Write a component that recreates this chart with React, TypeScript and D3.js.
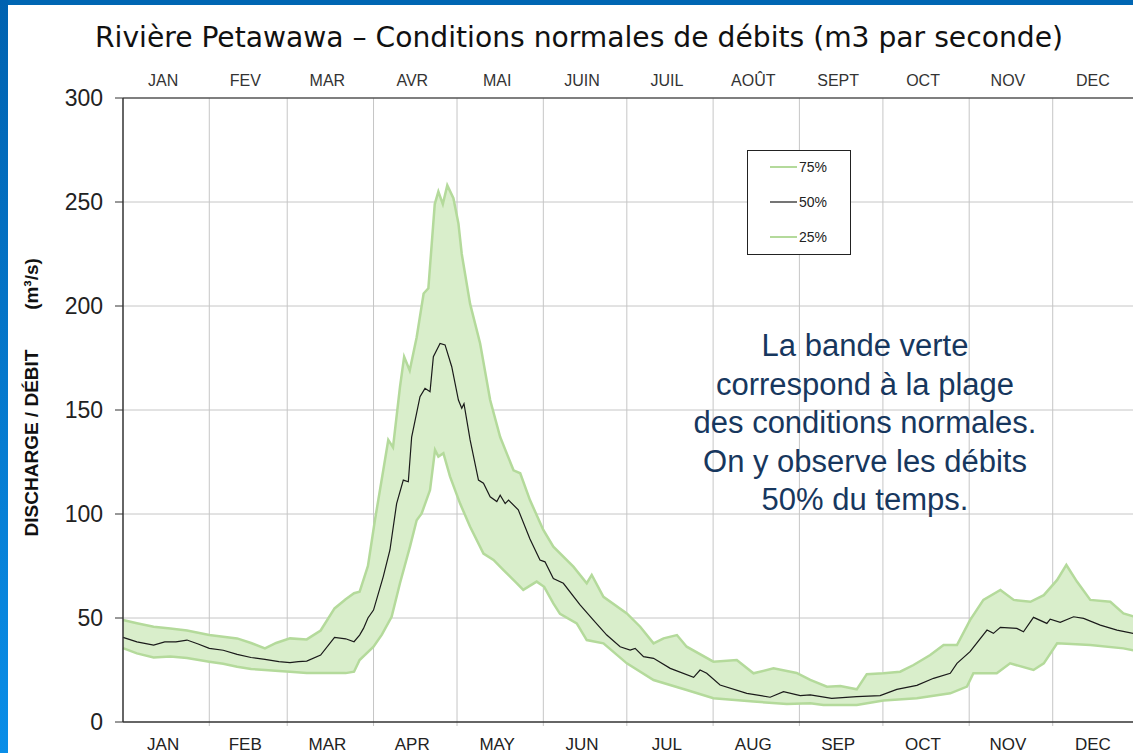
import React from "react";
import * as d3 from "d3";

const monthsFr = ["JAN", "FEV", "MAR", "AVR", "MAI", "JUIN", "JUIL", "AOÛT", "SEPT", "OCT", "NOV", "DEC"];
const monthsEn = ["JAN", "FEB", "MAR", "APR", "MAY", "JUN", "JUL", "AUG", "SEP", "OCT", "NOV", "DEC"];
const monthStarts = [0, 31, 59, 90, 120, 151, 181, 212, 243, 273, 304, 334, 365];
const yTicks = [0, 50, 100, 150, 200, 250, 300];

// [day of year, m3/s]
const p75: [number, number][] = [
  [0, 49], [5, 47.5], [11, 45.8], [17, 45], [23, 44], [31, 41.8], [36, 41], [41, 40.2], [46, 38],
  [51, 35.4], [55, 38], [60, 40.2], [66, 39.7], [71, 44], [76, 54.6], [80, 59], [83, 61.9], [85, 62.6],
  [88, 75], [90.5, 97], [93.5, 121], [95.3, 135.6], [97, 132], [99.5, 161], [101, 175.6], [103, 169],
  [105.5, 185], [108, 206], [109.7, 208.5], [112, 249], [113.3, 255], [114.9, 249], [116.5, 258],
  [118.7, 251.8], [120.5, 239.7], [121.7, 225], [124.7, 201], [128.3, 182], [131.9, 154.8], [135.5, 137],
  [140.3, 121], [142.7, 119.6], [146.2, 106.7], [151, 92.3], [154.6, 84.3], [161.8, 74.7], [166.6, 66.7],
  [168.4, 70.7], [172.6, 60.2], [181, 52.2], [185.8, 45.8], [190.6, 37.8], [194.2, 40.2], [199, 41.8],
  [202.5, 36.2], [212.1, 29], [220.5, 29.8], [226.5, 23.4], [233.7, 25.8], [242, 23.6], [246.9, 20.2],
  [252.9, 17], [257.7, 17.3], [263.6, 15.7], [267.2, 23], [273.2, 23.4], [279.2, 24.2], [284, 27.4],
  [290, 32.2], [294.8, 37], [299.6, 37], [304.3, 49], [309.1, 58.7], [315.2, 63.5], [320, 58.7],
  [326, 57.8], [330.8, 61], [335.6, 68.3], [338.9, 75.5], [342.7, 67.5], [347.5, 58.7], [354.7, 57.8],
  [359.4, 52.2], [365, 50],
];

const p50: [number, number][] = [
  [0, 40.7], [5, 38.5], [11, 37], [15, 38.5], [19, 38.5], [23, 39.4], [27, 37.5], [31, 35.4], [36, 34.5],
  [41, 32.5], [46, 31], [51, 30.1], [56, 29], [60, 28.5], [63, 29], [66, 29.3], [71, 32.2], [76, 40.7],
  [80, 40], [83, 38.6], [85, 41.8], [86.4, 45], [88, 50], [90, 53.8], [93.5, 69.9], [95.9, 82.7],
  [98.3, 105], [100.7, 116.3], [102.5, 115.5], [103.7, 137], [106.7, 156.4], [108.5, 160.4], [110.3, 158.8],
  [111.5, 175.6], [113.9, 182], [115.7, 181.3], [118.1, 170.8], [120.5, 154.8], [121.7, 150.8], [122.5, 153],
  [124.7, 135.6], [127.7, 116.3], [129.5, 114.8], [131.9, 108.3], [134.3, 106], [135.5, 109], [137.3, 105],
  [138.5, 106.7], [142, 102], [146.2, 88], [149.8, 77.9], [151.6, 77], [154.6, 69], [158.2, 66.7],
  [164.2, 56.3], [169, 49], [173.8, 41.8], [178.6, 36.2], [182.2, 34.6], [184, 35.4], [187, 31.4],
  [190.6, 30.6], [196.6, 25.8], [205, 21.5], [207.3, 25], [209.7, 23.4], [214.5, 17.8], [224.1, 13.8],
  [232.5, 11.9], [237.3, 14.6], [243.3, 12.7], [246.9, 13], [254.6, 11.4], [263.6, 12.2], [272, 12.7],
  [278, 15.7], [285.2, 17.6], [291.2, 21], [297.2, 23.4], [299.6, 28.2], [304.3, 33.8], [310.4, 44.2],
  [312.7, 42.6], [315.2, 45.5], [321.1, 45], [323.5, 43.4], [327.1, 50.3], [331.9, 47.4], [333.1, 49.4],
  [336.7, 47.9], [341.5, 50.6], [345.1, 49.8], [351.1, 46.6], [357.1, 44.2], [365, 42],
];

const p25: [number, number][] = [
  [0, 35.5], [5, 33], [11, 31], [17, 31.5], [23, 30.8], [31, 29], [36, 28], [41, 26.6], [46, 25.5],
  [51, 25], [56, 24.5], [60, 24.2], [66, 23.5], [71, 23.5], [76, 23.5], [80, 23.5], [83, 24.2], [85, 29.8],
  [90, 36.2], [93, 42], [96.5, 50.6], [99.5, 66.7], [103.1, 84.3], [105.5, 97], [107.3, 100.3],
  [110.3, 111.5], [112.1, 130.8], [113.3, 127.6], [115.1, 129.2], [117.5, 118], [121.1, 105], [124.7, 93.9],
  [129.5, 81], [133.1, 77.9], [136.7, 73], [141.5, 66.7], [143.8, 63.5], [148.6, 67.5], [151.3, 65],
  [154.6, 57], [157, 52], [163, 47.4], [166.6, 39.4], [172.6, 37.8], [181, 28.2], [190.6, 20.2],
  [202.5, 15.4], [212.1, 11.4], [226.5, 9.8], [238.5, 8.7], [246.9, 9], [251.6, 8.2], [263.6, 8.2],
  [273.2, 10.3], [285.2, 11.4], [297.2, 13.8], [303.2, 17], [305.5, 23.4], [313.9, 23.4], [318.7, 28.2],
  [327.1, 25], [330.8, 28.2], [335.6, 37.8], [347.5, 37], [359.4, 35.4], [365, 34],
];

const legendItems = ["75%", "50%", "25%"];
const noteLines = [
  "La bande verte",
  "correspond à la plage",
  "des conditions normales.",
  "On y observe les débits",
  "50% du temps.",
];
const title = "Rivière Petawawa – Conditions normales de débits (m3 par seconde)";

export default function App() {
  const W = 1133, H = 753;
  const x = d3.scaleLinear().domain([0, 365]).range([123, 1139]);
  const y = d3.scaleLinear().domain([0, 300]).range([722, 98]);
  const line = d3.line<[number, number]>().x(d => x(d[0])).y(d => y(d[1]));
  const band = line([...p75, ...p25.slice().reverse()]) + "Z";
  const green = "#b4da9b";
  const sans = "'Liberation Sans', Arial, sans-serif";

  return (
    <svg width={W} height={H} style={{ position: "absolute", left: 0, top: 0, background: "#fff" }}>
      <defs>
        <linearGradient id="side" x1="0" y1="0" x2="0" y2="1">
          <stop offset="0" stopColor="#0062b0" />
          <stop offset="1" stopColor="#0a8ee8" />
        </linearGradient>
      </defs>
      <rect x={0} y={0} width={W} height={H} fill="#fff" />
      <rect x={0} y={0} width={W} height={5} fill="#0066b3" />
      <rect x={0} y={0} width={8} height={H} fill="url(#side)" />

      <text x={579} y={47} textAnchor="middle" fontFamily="'DejaVu Sans Condensed', 'DejaVu Sans', sans-serif"
        fontSize={28} textLength={968} lengthAdjust="spacingAndGlyphs" fill="#111">{title}</text>

      {/* grid */}
      {yTicks.slice(1, -1).map(t => (
        <line key={"h" + t} x1={123} x2={W} y1={y(t)} y2={y(t)} stroke="#c6c6c6" strokeWidth={1} />
      ))}
      {monthStarts.slice(1, -1).map(m => (
        <line key={"v" + m} x1={x(m)} x2={x(m)} y1={y(300)} y2={y(0) + 4} stroke="#c6c6c6" strokeWidth={1} />
      ))}

      {/* band + median */}
      <path d={band} fill="#d9eecb" stroke="none" />
      <path d={line(p75) || ""} fill="none" stroke={green} strokeWidth={2.5} />
      <path d={line(p25) || ""} fill="none" stroke={green} strokeWidth={2.5} />
      <path d={line(p50) || ""} fill="none" stroke="#1a1a1a" strokeWidth={1.2} />

      {/* axes */}
      <line x1={123} x2={W} y1={y(300)} y2={y(300)} stroke="#555" strokeWidth={1.5} />
      <line x1={123} x2={W} y1={y(0)} y2={y(0)} stroke="#333" strokeWidth={1.5} />
      <line x1={123} x2={123} y1={y(300)} y2={y(0)} stroke="#333" strokeWidth={1.5} />
      {yTicks.map(t => (
        <g key={"t" + t}>
          <line x1={115} x2={123} y1={y(t)} y2={y(t)} stroke="#333" strokeWidth={1} />
          <text x={103} y={y(t) + 8} textAnchor="end" fontFamily={sans} fontSize={23} fill="#222">{t}</text>
        </g>
      ))}
      {monthsFr.map((m, i) => (
        <text key={"fr" + m} x={x((monthStarts[i] + monthStarts[i + 1]) / 2) - 3} y={86} textAnchor="middle"
          fontFamily={sans} fontSize={16} fill="#333">{m}</text>
      ))}
      {monthsEn.map((m, i) => (
        <text key={"en" + m} x={x((monthStarts[i] + monthStarts[i + 1]) / 2) - 3} y={750} textAnchor="middle"
          fontFamily={sans} fontSize={17} fill="#222">{m}</text>
      ))}

      {/* y label */}
      <text transform="translate(38,443) rotate(-90)" textAnchor="middle" fontFamily={sans} fontWeight="bold"
        fontSize={19} fill="#111">DISCHARGE / DÉBIT</text>
      <text transform="translate(38,284) rotate(-90)" textAnchor="middle" fontFamily={sans} fontWeight="bold"
        fontSize={19} fill="#111">(m³/s)</text>

      {/* legend */}
      <rect x={747.5} y={150.5} width={103} height={104} fill="#fff" stroke="#222" strokeWidth={1} />
      {legendItems.map((l, i) => (
        <g key={l}>
          <line x1={770} x2={797} y1={167 + i * 35} y2={167 + i * 35} stroke={i === 1 ? "#1a1a1a" : green}
            strokeWidth={i === 1 ? 1.2 : 2} />
          <text x={799} y={172 + i * 35} fontFamily={sans} fontSize={14} fill="#222">{l}</text>
        </g>
      ))}

      {/* note */}
      {noteLines.map((l, i) => (
        <text key={l} x={865} y={356 + i * 38.5} textAnchor="middle" fontFamily={sans} fontSize={31}
          fill="#17375e">{l}</text>
      ))}
    </svg>
  );
}
